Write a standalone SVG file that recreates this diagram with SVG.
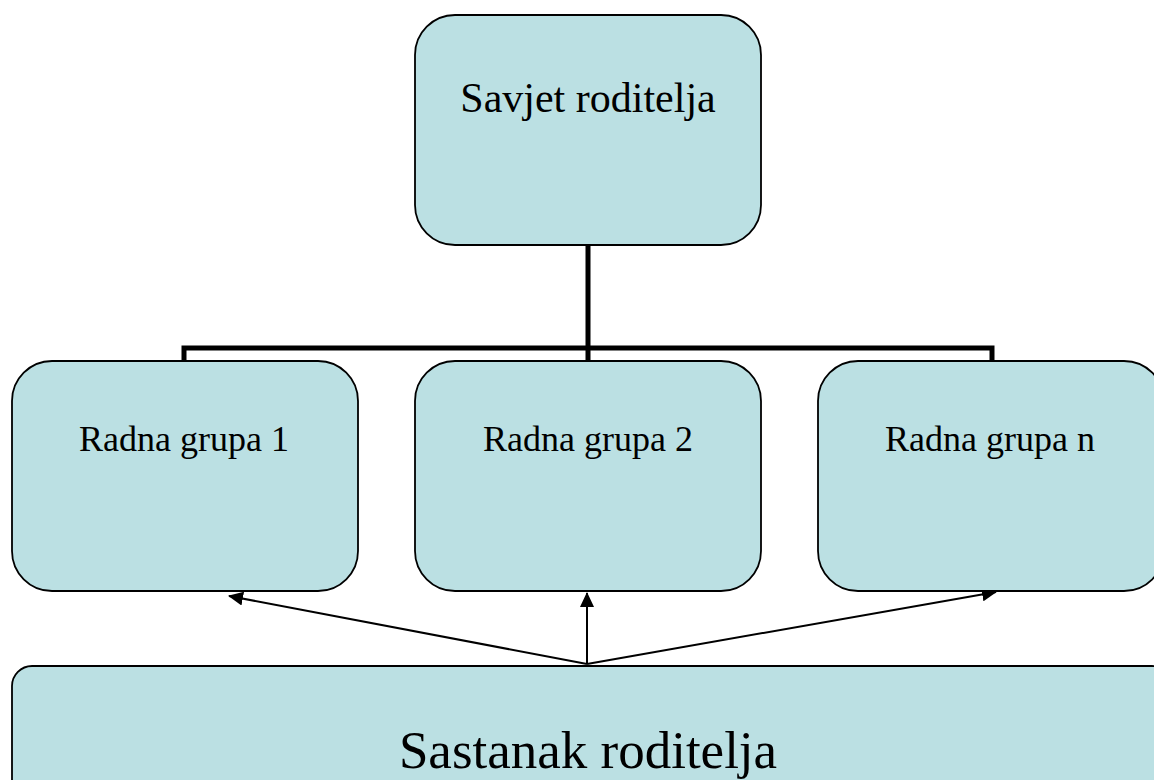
<svg xmlns="http://www.w3.org/2000/svg" width="1154" height="780" viewBox="0 0 1154 780">
<defs>
<style>
.box{fill:#BBE0E3;stroke:#000;stroke-width:1.8}
.t{fill:#000;text-anchor:middle}
.tree{fill:none;stroke:#000;stroke-width:5}
.arr{fill:none;stroke:#000;stroke-width:2;marker-end:url(#ah)}
</style>
<marker id="ah" viewBox="0 0 15 14" refX="14" refY="7" markerWidth="15" markerHeight="14" markerUnits="userSpaceOnUse" orient="auto">
<path d="M0,0 L15,7 L0,14 z" fill="#000"/>
</marker>
</defs>
<rect width="1154" height="780" fill="#fff"/>
<g id="connectors">
<path class="tree" d="M588,245 V361 M184,361 V348 H992 V361"/>
<line class="arr" x1="587" y1="664" x2="229" y2="596"/>
<line class="arr" x1="587" y1="664" x2="587" y2="593"/>
<line class="arr" x1="587" y1="664" x2="996" y2="592"/>
</g>
<g id="savjet">
<rect class="box" x="415" y="15" width="346" height="230" rx="40"/>
<text class="t" font-family="Liberation Serif, serif" x="588" y="112" font-size="42">Savjet roditelja</text>
</g>
<g id="grupa1">
<rect class="box" x="12" y="361" width="346" height="230" rx="40"/>
<text class="t" font-family="Liberation Serif, serif" x="184" y="451" font-size="36">Radna grupa 1</text>
</g>
<g id="grupa2">
<rect class="box" x="415" y="361" width="346" height="230" rx="40"/>
<text class="t" font-family="Liberation Serif, serif" x="588" y="451" font-size="36">Radna grupa 2</text>
</g>
<g id="grupan">
<rect class="box" x="818" y="361" width="346" height="230" rx="40"/>
<text class="t" font-family="Liberation Serif, serif" x="990" y="451" font-size="36">Radna grupa n</text>
</g>
<g id="sastanak">
<rect class="box" x="12" y="666" width="1160" height="160" rx="20"/>
<text class="t" font-family="Liberation Serif, serif" x="588" y="768" font-size="53">Sastanak roditelja</text>
</g>
</svg>
